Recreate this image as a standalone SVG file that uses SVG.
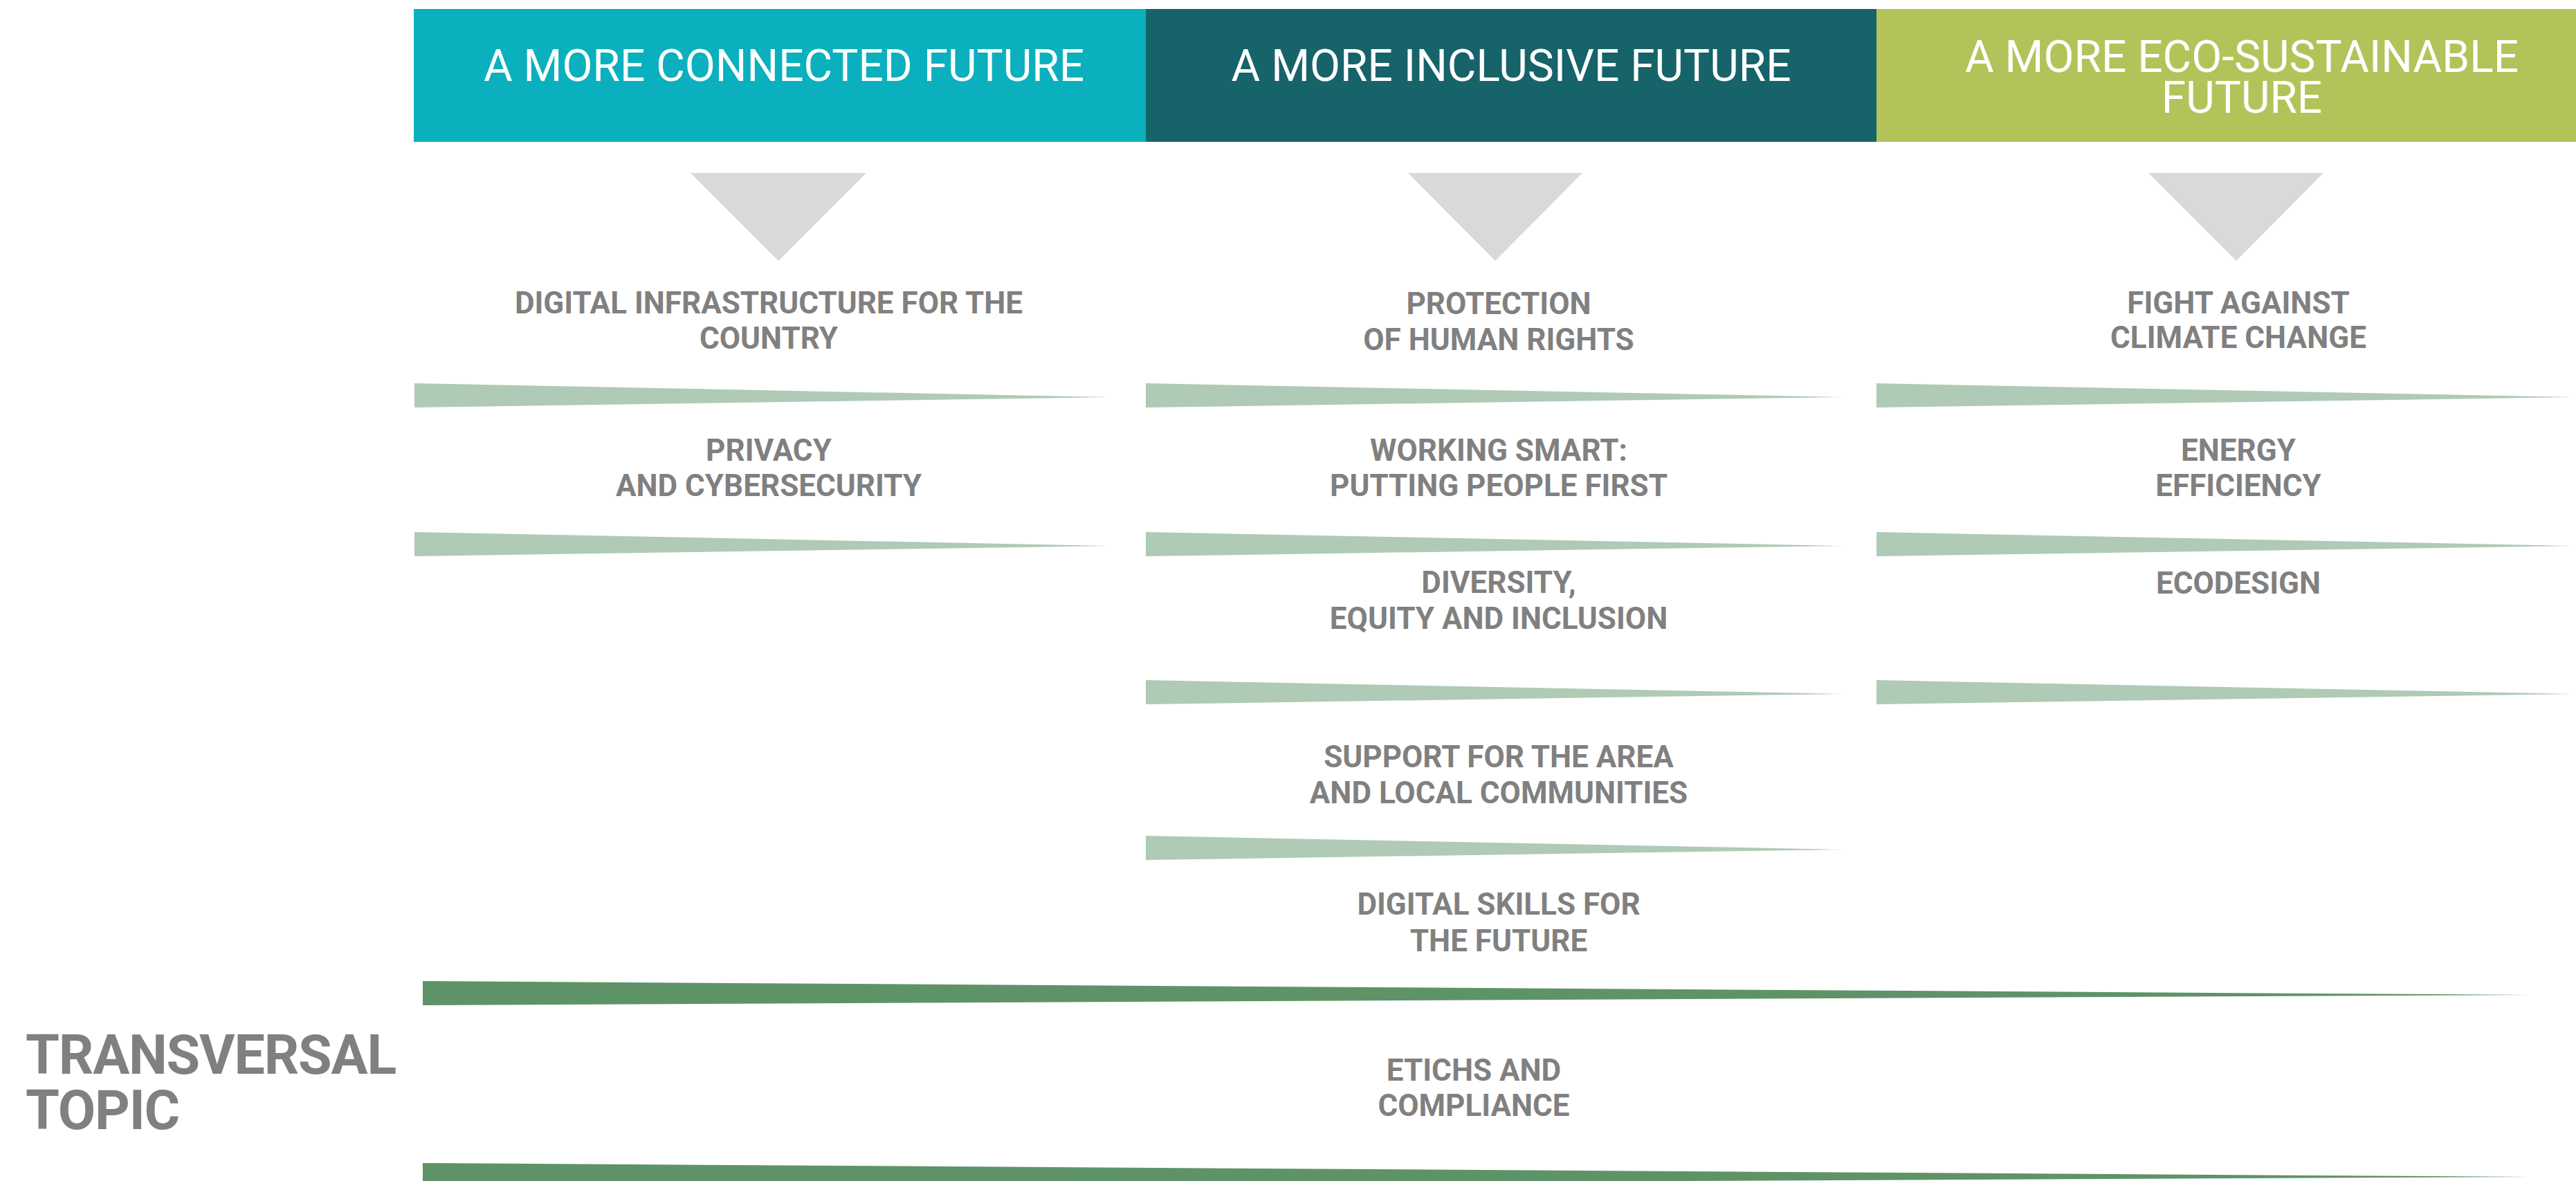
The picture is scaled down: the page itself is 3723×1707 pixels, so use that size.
<svg xmlns="http://www.w3.org/2000/svg" width="3723" height="1707" viewBox="0 0 3723 1707">
  <style>
    .hdr { font-family: Roboto, "Liberation Sans", sans-serif; font-size: 64px; fill: #FFFFFF; text-anchor: middle; }
    .item { font-family: Roboto, "Liberation Sans", sans-serif; font-weight: bold; font-size: 44px; fill: #808080; text-anchor: middle; }
    .side { font-family: Roboto, "Liberation Sans", sans-serif; font-weight: bold; font-size: 79px; letter-spacing: -1.2px; fill: #808080; }
    .arrow { fill: #D9D9D9; }
    .sep { fill: #AFCAB5; }
    .sep-dark { fill: #5E9367; }
  </style>
  <defs>
    <!-- tapering separator, 1006 long, 35 thick at its root -->
    <polygon id="wedge" points="0,0 1006,20 0,35"/>
    <polygon id="wedge-long" points="0,0 3045,20 0,35"/>
  </defs>
  <rect width="3723" height="1707" fill="#FFFFFF"/>

  <!-- column headers -->
  <g id="header-connected">
    <rect x="598" y="13" width="1058" height="192" fill="#0AB0BE"/>
    <text class="hdr" x="1133" y="117">A MORE CONNECTED FUTURE</text>
  </g>
  <g id="header-inclusive">
    <rect x="1656" y="13" width="1056" height="192" fill="#17636A"/>
    <text class="hdr" x="2184" y="117">A MORE INCLUSIVE FUTURE</text>
  </g>
  <g id="header-eco">
    <rect x="2712" y="13" width="1011" height="192" fill="#B3C35A"/>
    <text class="hdr" x="3240" y="104">A MORE ECO-SUSTAINABLE</text>
    <text class="hdr" x="3240" y="163">FUTURE</text>
  </g>

  <!-- downward pointers under each header -->
  <g id="pointers">
    <polygon class="arrow" points="998,250 1252,250 1125,377"/>
    <polygon class="arrow" points="2035,250 2287,250 2161,377"/>
    <polygon class="arrow" points="3105,250 3358,250 3232,377"/>
  </g>

  <!-- separators -->
  <g id="connectors">
    <use href="#wedge" class="sep" x="599" y="554"/>
    <use href="#wedge" class="sep" x="599" y="769"/>
    <use href="#wedge" class="sep" x="1656" y="554"/>
    <use href="#wedge" class="sep" x="1656" y="769"/>
    <use href="#wedge" class="sep" x="1656" y="983"/>
    <use href="#wedge" class="sep" x="1656" y="1208"/>
    <use href="#wedge" class="sep" x="2712" y="554"/>
    <use href="#wedge" class="sep" x="2712" y="769"/>
    <use href="#wedge" class="sep" x="2712" y="983"/>
    <use href="#wedge-long" class="sep-dark" x="611" y="1418"/>
    <use href="#wedge-long" class="sep-dark" x="611" y="1681"/>
  </g>

  <!-- connected future topics -->
  <g id="digital-infrastructure">
    <text class="item" x="1111" y="453">DIGITAL INFRASTRUCTURE FOR THE</text>
    <text class="item" x="1111" y="504">COUNTRY</text>
  </g>
  <g id="privacy">
    <text class="item" x="1111" y="666">PRIVACY</text>
    <text class="item" x="1111" y="717">AND CYBERSECURITY</text>
  </g>

  <!-- inclusive future topics -->
  <g id="human-rights">
    <text class="item" x="2166" y="454">PROTECTION</text>
    <text class="item" x="2166" y="506">OF HUMAN RIGHTS</text>
  </g>
  <g id="working-smart">
    <text class="item" x="2166" y="666">WORKING SMART:</text>
    <text class="item" x="2166" y="717">PUTTING PEOPLE FIRST</text>
  </g>
  <g id="diversity">
    <text class="item" x="2166" y="857">DIVERSITY,</text>
    <text class="item" x="2166" y="909">EQUITY AND INCLUSION</text>
  </g>
  <g id="local-communities">
    <text class="item" x="2166" y="1109">SUPPORT FOR THE AREA</text>
    <text class="item" x="2166" y="1161">AND LOCAL COMMUNITIES</text>
  </g>
  <g id="digital-skills">
    <text class="item" x="2166" y="1322">DIGITAL SKILLS FOR</text>
    <text class="item" x="2166" y="1375">THE FUTURE</text>
  </g>

  <!-- eco-sustainable future topics -->
  <g id="climate-change">
    <text class="item" x="3235" y="453">FIGHT AGAINST</text>
    <text class="item" x="3235" y="503">CLIMATE CHANGE</text>
  </g>
  <g id="energy-efficiency">
    <text class="item" x="3235" y="666">ENERGY</text>
    <text class="item" x="3235" y="717">EFFICIENCY</text>
  </g>
  <g id="ecodesign">
    <text class="item" x="3235" y="858">ECODESIGN</text>
  </g>

  <!-- transversal topic -->
  <g id="transversal-label">
    <text class="side" x="37" y="1552">TRANSVERSAL</text>
    <text class="side" x="37" y="1632">TOPIC</text>
  </g>
  <g id="ethics-compliance">
    <text class="item" x="2130" y="1562">ETICHS AND</text>
    <text class="item" x="2130" y="1613">COMPLIANCE</text>
  </g>
</svg>
